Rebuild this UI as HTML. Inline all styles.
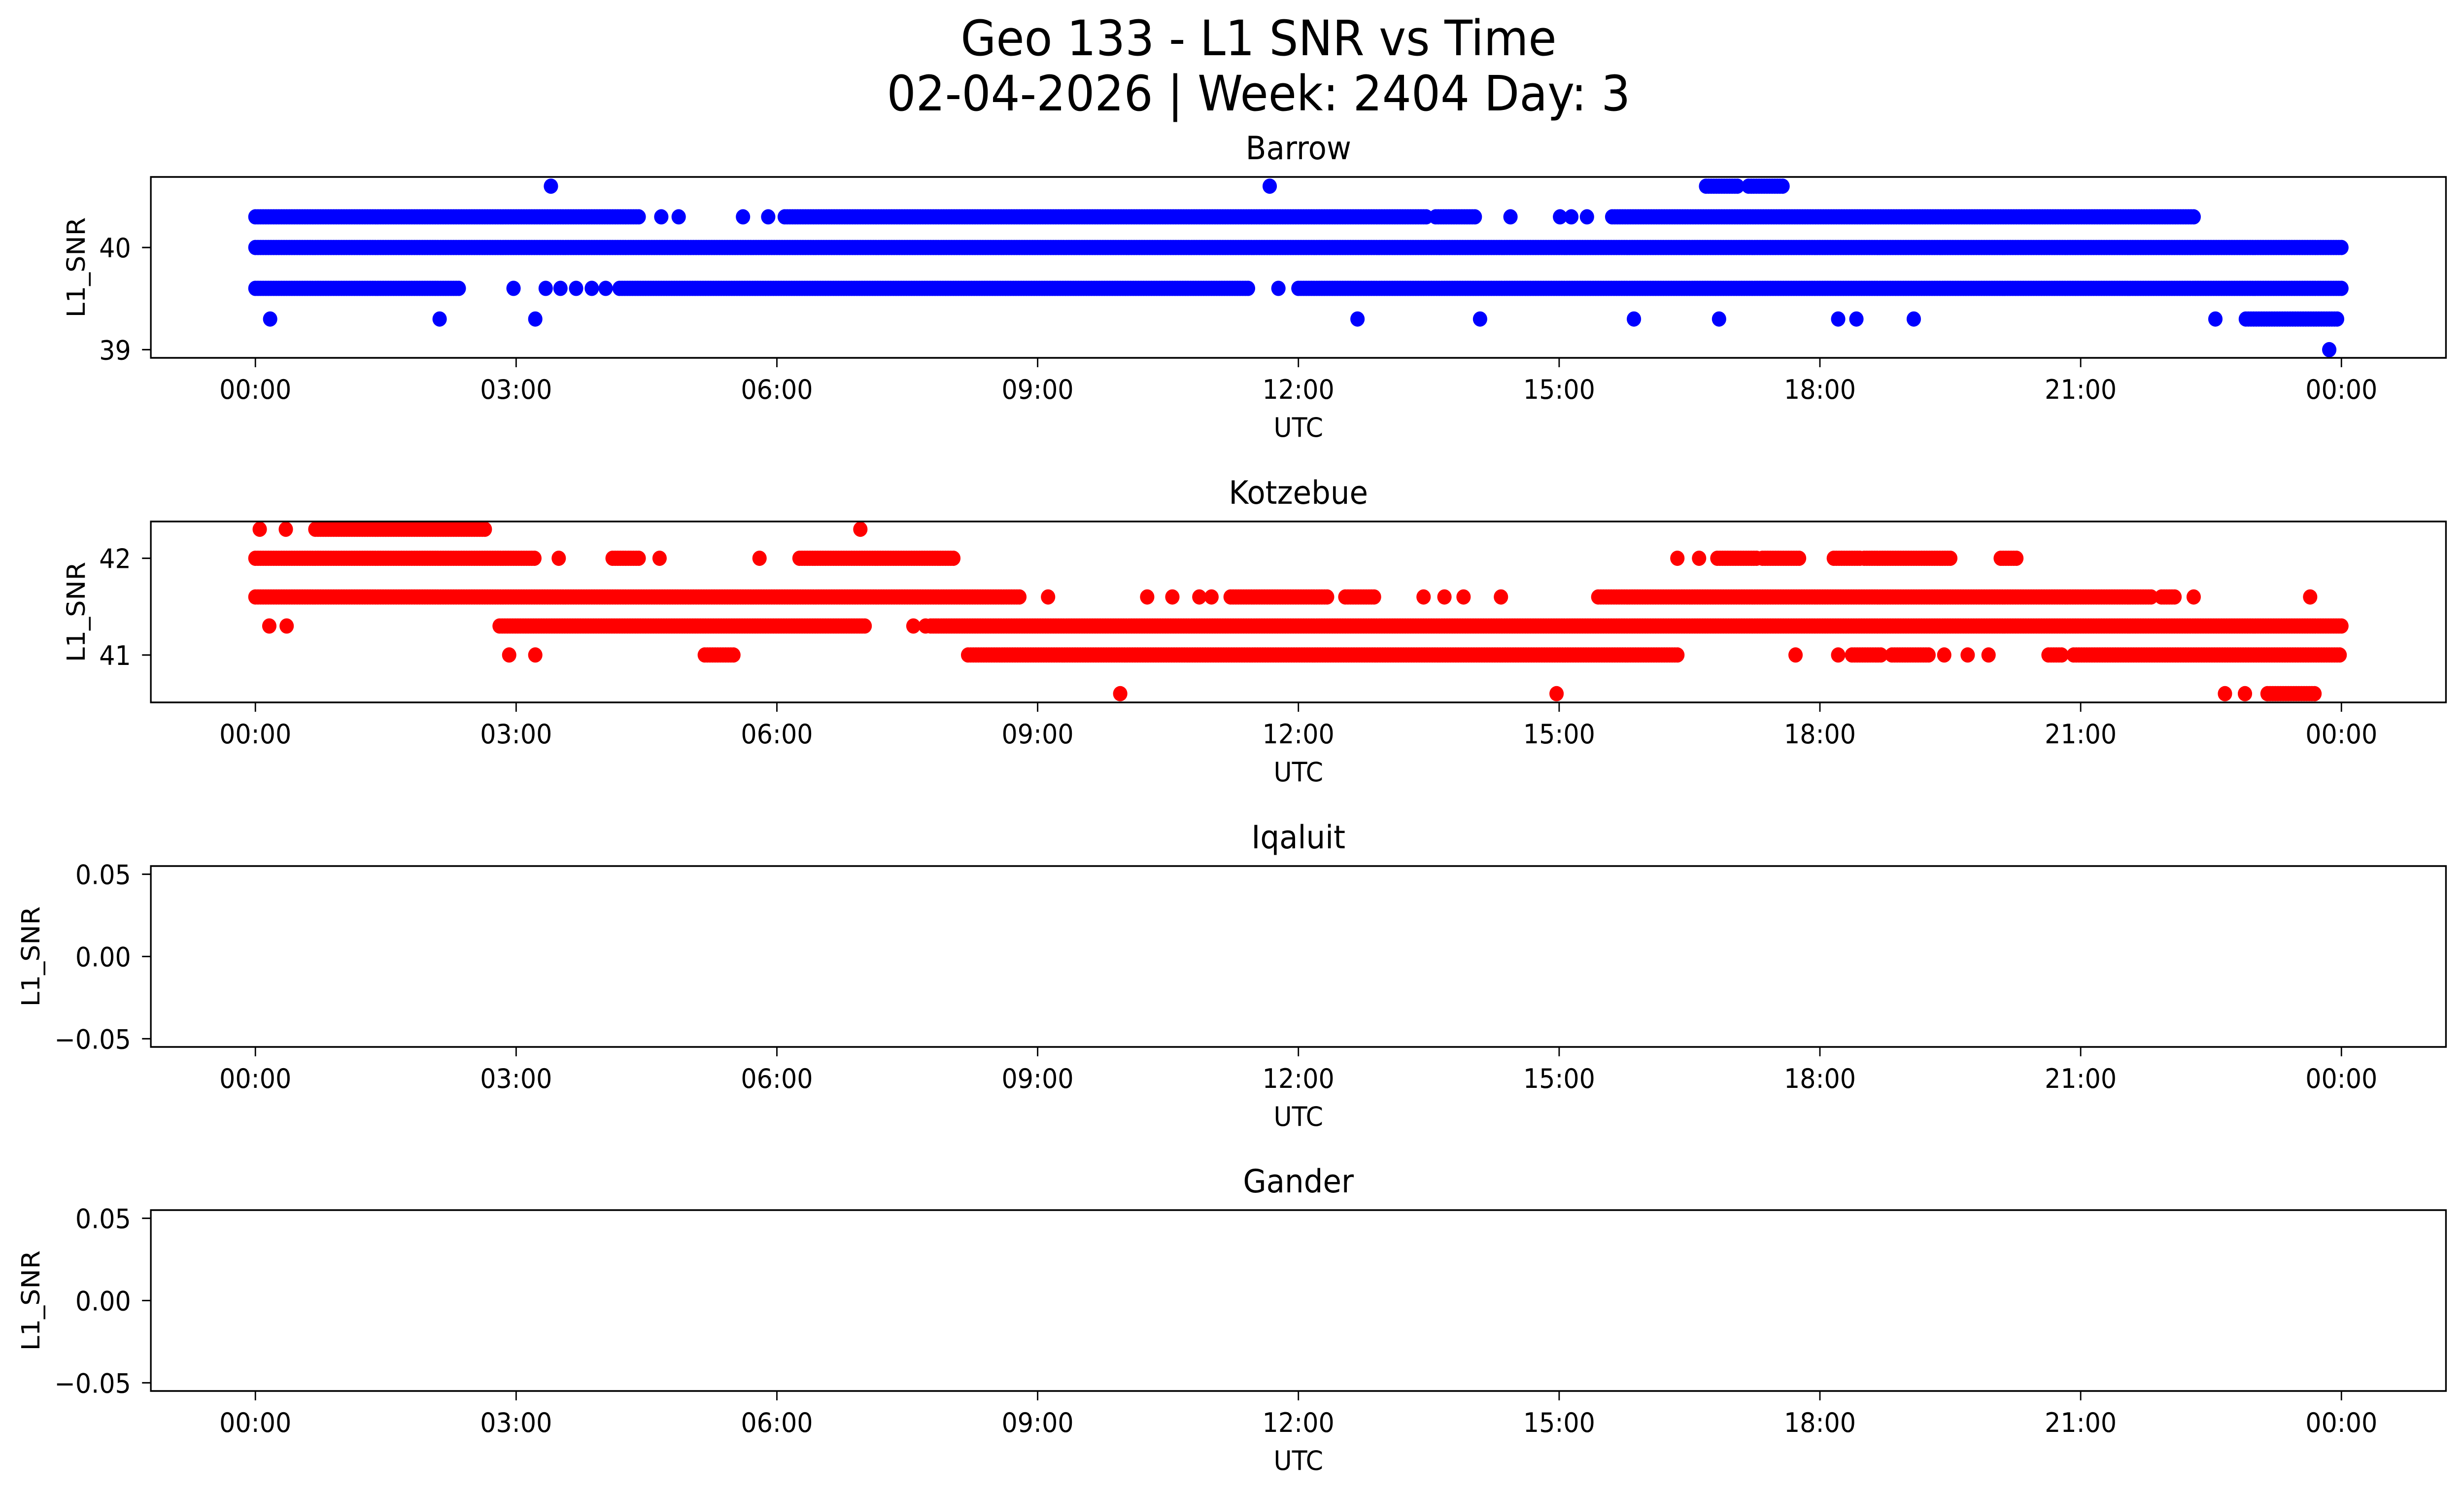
<!DOCTYPE html>
<html><head><meta charset="utf-8"><title>Geo 133 - L1 SNR vs Time</title>
<style>
html,body{margin:0;padding:0;background:#fff;width:100%;height:100%;overflow:hidden}
svg{display:block;position:absolute;left:0;top:0;width:100vw;height:100vh}
text{font-family:"DejaVu Sans","Liberation Sans",sans-serif;fill:#000}
</style>
</head><body>
<svg id="fig" xmlns="http://www.w3.org/2000/svg" viewBox="0 0 5325 3033" preserveAspectRatio="none">
<rect width="5325" height="3033" fill="#fff"/>
<text x="2720" y="112" font-size="99" text-anchor="middle">Geo 133 - L1 SNR vs Time</text>
<text x="2720" y="224" font-size="99" text-anchor="middle">02-04-2026 | Week: 2404 Day: 3</text>
<g id="panels"></g>
</svg>
<script>
// ---- data (hours UTC, L1_SNR) ----
const xTickHours = [0, 3, 6, 9, 12, 15, 18, 21, 24];
const xTickLabels = ["00:00","03:00","06:00","09:00","12:00","15:00","18:00","21:00","00:00"];
const stationNames = ["Barrow","Kotzebue","Iqaluit","Gander"];

const barrowRunStart = [0.0, 6.09, 13.58, 15.61, 0.0, 0.0, 4.19, 12.0, 16.69, 17.18, 22.9];
const barrowRunEnd   = [4.41, 13.48, 14.04, 22.31, 24.0, 2.35, 11.44, 24.0, 17.07, 17.57, 23.95];
const barrowRunValue = [40.3, 40.3, 40.3, 40.3, 40.0, 39.6, 39.6, 39.6, 40.6, 40.6, 39.3];
const barrowPointHour  = [4.67, 4.87, 5.61, 5.90, 14.44, 15.01, 15.14, 15.32, 2.97, 3.34, 3.51, 3.69, 3.87, 4.03, 11.77, 3.40, 11.67, 0.17, 2.12, 3.22, 12.68, 14.09, 15.86, 16.84, 18.21, 18.42, 19.08, 22.55, 23.86];
const barrowPointValue = [40.3, 40.3, 40.3, 40.3, 40.3, 40.3, 40.3, 40.3, 39.6, 39.6, 39.6, 39.6, 39.6, 39.6, 39.6, 40.6, 40.6, 39.3, 39.3, 39.3, 39.3, 39.3, 39.3, 39.3, 39.3, 39.3, 39.3, 39.3, 39.0];

const kotzRunStart = [0.69, 0.0, 4.11, 6.26, 16.82, 17.34, 18.16, 18.51, 20.08, 0.0, 11.22, 12.54, 15.45, 21.93, 2.81, 7.77, 5.17, 8.20, 18.37, 18.83, 20.63, 20.92, 23.15];
const kotzRunEnd   = [2.65, 3.22, 4.41, 8.04, 17.29, 17.77, 18.48, 19.51, 20.27, 8.80, 12.33, 12.87, 21.82, 22.09, 7.02, 24.0, 5.52, 16.36, 18.72, 19.27, 20.79, 24.0, 23.69];
const kotzRunValue = [42.3, 42.0, 42.0, 42.0, 42.0, 42.0, 42.0, 42.0, 42.0, 41.6, 41.6, 41.6, 41.6, 41.6, 41.3, 41.3, 41.0, 41.0, 41.0, 41.0, 41.0, 41.0, 40.6];
const kotzPointHour  = [0.05, 0.35, 6.96, 3.49, 4.65, 5.80, 16.36, 16.61, 9.12, 10.26, 10.55, 10.86, 11.0, 13.44, 13.68, 13.90, 14.33, 22.30, 23.64, 0.16, 0.36, 7.57, 7.71, 2.92, 3.22, 17.72, 18.21, 19.43, 19.70, 19.94, 9.95, 14.97, 22.66, 22.89];
const kotzPointValue = [42.3, 42.3, 42.3, 42.0, 42.0, 42.0, 42.0, 42.0, 41.6, 41.6, 41.6, 41.6, 41.6, 41.6, 41.6, 41.6, 41.6, 41.6, 41.6, 41.3, 41.3, 41.3, 41.3, 41.0, 41.0, 41.0, 41.0, 41.0, 41.0, 41.0, 40.6, 40.6, 40.6, 40.6];

const barrowYTicks = [39, 40];
const kotzYTicks = [41, 42];
const emptyYTicks = [-0.05, 0.0, 0.05];
const emptyYTickLabels = ["\u22120.05", "0.00", "0.05"];

// ---- layout ----
const NS = "http://www.w3.org/2000/svg";
const L = 326, R = 5286, PH = 367;
const panelTops = [359, 1058, 1757, 2455];
const xMin = -1.2027, xMax = 25.2027;
function xs(h){ return L + (h - xMin) / (xMax - xMin) * (R - L); }
function mkY(top, lo, hi){ return v => top + PH - (v - lo) / (hi - lo) * PH; }
const root = document.getElementById('panels');
function el(tag, attrs, parent){ const e = document.createElementNS(NS, tag); for (const k in attrs) e.setAttribute(k, attrs[k]); (parent||root).appendChild(e); return e; }

const configs = [
  {lo:38.92, hi:40.69, ticks:barrowYTicks, labels:barrowYTicks.map(String), color:"#0000ff", rs:barrowRunStart, re:barrowRunEnd, rv:barrowRunValue, ph:barrowPointHour, pv:barrowPointValue, ylx:165},
  {lo:40.51, hi:42.38, ticks:kotzYTicks, labels:kotzYTicks.map(String), color:"#ff0000", rs:kotzRunStart, re:kotzRunEnd, rv:kotzRunValue, ph:kotzPointHour, pv:kotzPointValue, ylx:165},
  {lo:-0.055, hi:0.055, ticks:emptyYTicks, labels:emptyYTickLabels, color:"#0000ff", rs:[], re:[], rv:[], ph:[], pv:[], ylx:67},
  {lo:-0.055, hi:0.055, ticks:emptyYTicks, labels:emptyYTickLabels, color:"#0000ff", rs:[], re:[], rv:[], ph:[], pv:[], ylx:67}
];

configs.forEach((c, i) => {
  const top = panelTops[i], bot = top + PH;
  const ys = mkY(top, c.lo, c.hi);
  const g = el('g', {});
  
  
  const t = el('text', {x:(L+R)/2, y:top-36, 'font-size':65, 'text-anchor':'middle'}, g);
  t.textContent = stationNames[i];
  
  
  const pts = el('g', {fill:c.color}, g);
  
  
  c.rs.forEach((s, k) => {
    for (let h = s; h <= c.re[k] + 1e-9; h += 0.03) {
      const d = el('circle', {cx:xs(h).toFixed(1), cy:ys(c.rv[k]).toFixed(1), r:15.5}, pts);
      
      
    }
  });
  c.ph.forEach((h, k) => {
    const d = el('circle', {cx:xs(h).toFixed(1), cy:ys(c.pv[k]).toFixed(1), r:15.5}, pts);
    
    
  });
  const box = el('rect', {x:L, y:top, width:R-L, height:PH, fill:'none', stroke:'#000', 'stroke-width':3.5}, g);
  
  
  xTickHours.forEach((h, k) => {
    const x = xs(h);
    const tk = el('line', {x1:x, x2:x, y1:bot, y2:bot+19, stroke:'#000', 'stroke-width':3}, g);
    
    
    const tl = el('text', {x:x, y:bot+83, 'font-size':54, 'text-anchor':'middle'}, g);
    tl.textContent = xTickLabels[k];
    
    
  });
  const xl = el('text', {x:(L+R)/2, y:bot+160, 'font-size':54, 'text-anchor':'middle'}, g);
  xl.textContent = 'UTC';
  
  
  c.ticks.forEach((v, k) => {
    const y = ys(v);
    const tk = el('line', {x1:L-19, x2:L, y1:y, y2:y, stroke:'#000', 'stroke-width':3}, g);
    
    
    const tl = el('text', {x:283, y:y+20, 'font-size':54, 'text-anchor':'end'}, g);
    tl.textContent = c.labels[k];
    
    
  });
  const cy = top + PH/2;
  const yl = el('text', {x:c.ylx, y:cy, 'font-size':54, 'text-anchor':'middle', 'dominant-baseline':'central', transform:`rotate(-90 ${c.ylx} ${cy})`}, g);
  yl.textContent = 'L1_SNR';
  
  
});
</script>
</body></html>
